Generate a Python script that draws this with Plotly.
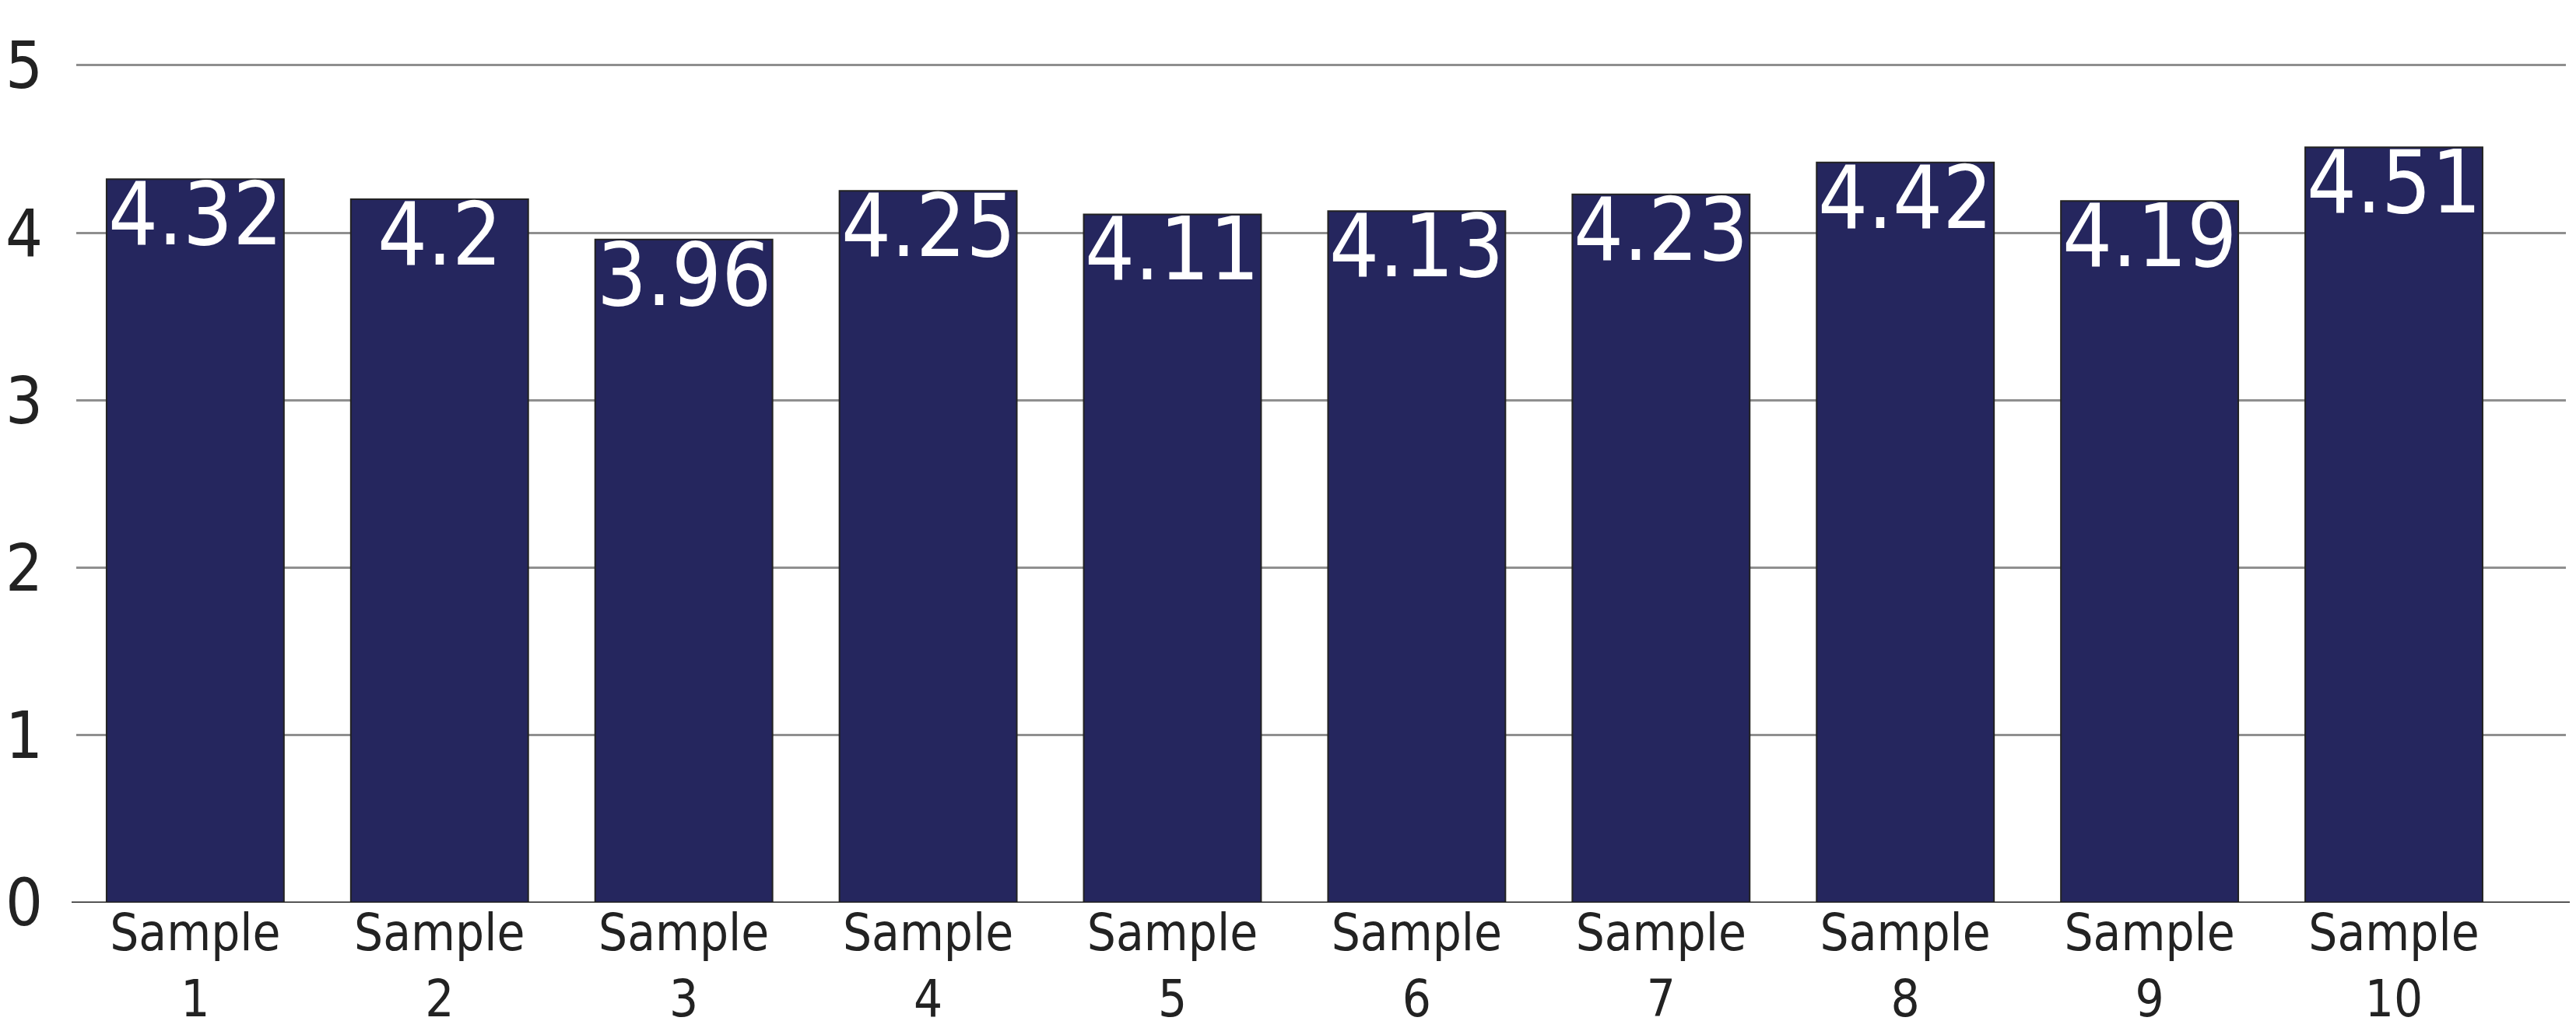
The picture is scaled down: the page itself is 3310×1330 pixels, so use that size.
import plotly.graph_objects as go

categories = ["Sample<br>1", "Sample<br>2", "Sample<br>3", "Sample<br>4", "Sample<br>5",
              "Sample<br>6", "Sample<br>7", "Sample<br>8", "Sample<br>9", "Sample<br>10"]
values = [4.32, 4.2, 3.96, 4.25, 4.11, 4.13, 4.23, 4.42, 4.19, 4.51]
value_labels = ["4.32", "4.2", "3.96", "4.25", "4.11", "4.13", "4.23", "4.42", "4.19", "4.51"]
y_ticks = [0, 1, 2, 3, 4, 5]

FONT = "DejaVu Sans Condensed, DejaVu Sans, sans-serif"

xs = list(range(len(categories)))

fig = go.Figure(go.Bar(
    x=xs,
    y=values,
    width=0.726,
    marker=dict(color="#25265E", line=dict(color="#222222", width=2)),
    textposition="none",
))

for xi, v, lab in zip(xs, values, value_labels):
    fig.add_annotation(x=xi, y=v, text=lab, showarrow=False,
                       xanchor="center", yanchor="top", yshift=22,
                       font=dict(family=FONT, size=112, color="white"))

OFF = 8  # page body margin
W, H = 3310 - 2 * OFF, 1330 - 2 * OFF
L, R = 98 - OFF, 3297 - OFF
T, B = 71 - OFF, 1160 - OFF

fig.update_layout(
    width=W, height=H,
    margin=dict(l=L, r=W - R, t=T, b=H - B, pad=0),
    plot_bgcolor="white", paper_bgcolor="white",
    showlegend=False,
    font=dict(family=FONT, color="#222222"),
)
fig.update_xaxes(
    range=[-0.487, 9.704],
    tickvals=xs,
    ticktext=categories,
    tickfont=dict(size=65, color="#222222", family=FONT),
    showgrid=False, zeroline=False, showline=False,
    ticks="", ticklabelstandoff=-5, automargin=False,
)
fig.update_yaxes(
    range=[0, 5.06],
    tickvals=y_ticks,
    tickfont=dict(size=84, color="#222222", family=FONT),
    showgrid=True, gridcolor="#8f8f8f", gridwidth=3,
    zeroline=False, showline=False, ticks="",
    ticklabelstandoff=42, automargin=False,
)
fig.add_shape(type="line", xref="paper", yref="y",
              x0=(92 - 98) / (R - L), x1=1 + (W - R) / (R - L), y0=0, y1=0,
              line=dict(color="#222222", width=3), layer="above")

fig.write_html("out.html")
